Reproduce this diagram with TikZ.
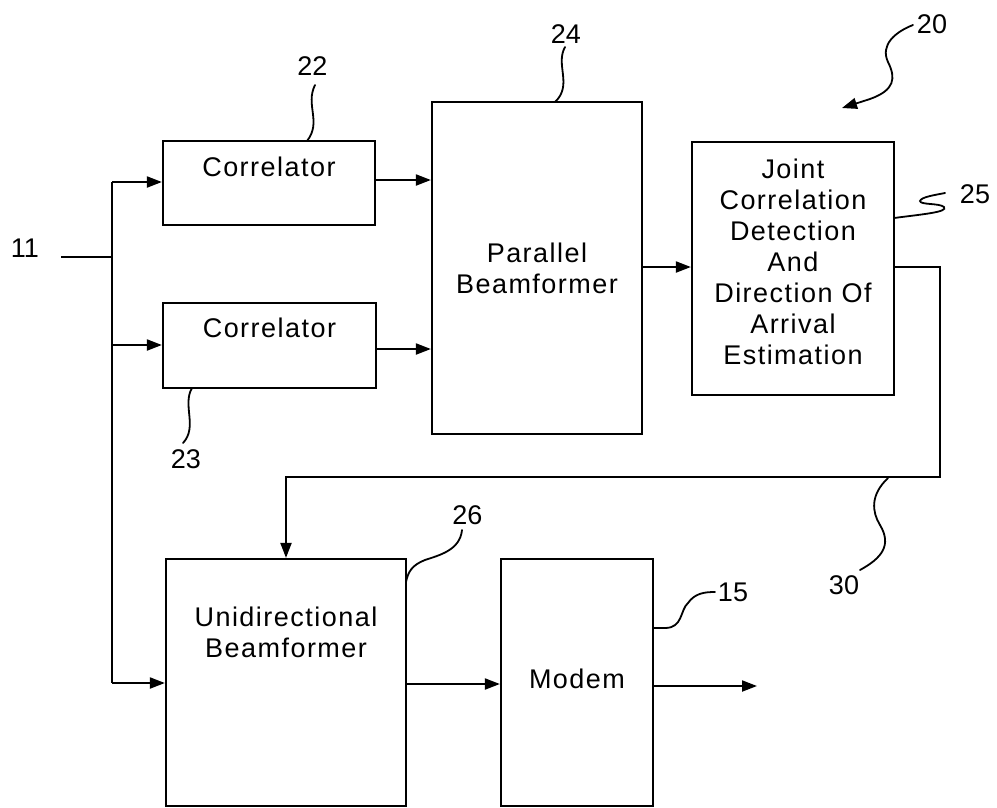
\documentclass[tikz,border=0pt]{standalone}
\usepackage{fontspec}
\setmainfont{Liberation Sans}
\newfontfamily\wordfont{Liberation Sans}[LetterSpace=5.5]
\usetikzlibrary{arrows.meta}
\begin{document}
\begin{tikzpicture}[x=1pt,y=-1pt,
  blk/.style={draw, line width=2.2pt, inner sep=0pt},
  txt/.style={font=\wordfont\fontsize{27}{31}\selectfont, align=center, inner sep=0pt},
  num/.style={font=\fontsize{27}{31}\selectfont, inner sep=0pt},
  conn/.style={line width=2pt},
  arr/.style={conn, -{Triangle[length=15pt,width=11pt]}},
  lead/.style={line width=1.8pt, line cap=round}]
\useasboundingbox (0,0) rectangle (997,807);

% blocks
\node[blk, minimum width=212pt, minimum height=84pt,
  label={[txt,yshift=16pt]center:Correlator}] (c1) at (269,183) {};
\node[blk, minimum width=213pt, minimum height=85pt,
  label={[txt,yshift=17.5pt]center:Correlator}] (c2) at (269.5,345.5) {};
\node[blk, minimum width=210pt, minimum height=332pt, txt] (pb) at (537,268) {Parallel\\Beamformer};
\node[blk, minimum width=202pt, minimum height=253pt,
  label={[txt,yshift=7pt]center:Joint\\Correlation\\Detection\\And\\Direction Of\\Arrival\\Estimation}] (jd) at (793,268.5) {};
\node[blk, minimum width=240pt, minimum height=247pt,
  label={[txt,yshift=50pt]center:Unidirectional\\Beamformer}] (ub) at (286,682.5) {};
\node[blk, minimum width=152pt, minimum height=247pt,
  label={[txt,yshift=3.5pt]center:Modem}] (md) at (577,682.5) {};

% reference numerals
\node[num] (n11) at (25,248.5) {11};
\node[num] (n22) at (312.5,66.5) {22};
\node[num] (n23) at (186,459.5) {23};
\node[num] (n24) at (566,34) {24};
\node[num] (n20) at (932,24) {20};
\node[num] (n25) at (975,194) {25};
\node[num] (n26) at (467.5,515) {26};
\node[num] (n15) at (733,592) {15};
\node[num] (n30) at (844,585.5) {30};

% input bus
\coordinate (in) at (61,257);
\coordinate (jin) at (112,257);
\coordinate (jtop) at (112,182);
\coordinate (jmid) at (112,345);
\coordinate (jbot) at (112,683);
\draw[conn] (in) -- (jin);
\draw[conn] (jtop) -- (jbot);
\draw[arr] (jtop) -- (jtop -| c1.west);
\draw[arr] (jmid) -- (jmid -| c2.west);
\draw[arr] (jbot) -- (jbot -| ub.west);

% correlators to parallel beamformer
\draw[arr] ([yshift=3pt]c1.east) -- ([yshift=3pt]c1.east -| pb.west);
\draw[arr] ([yshift=-3.5pt]c2.east) -- ([yshift=-3.5pt]c2.east -| pb.west);
\draw[arr] ([yshift=1pt]pb.east) -- ([yshift=1pt]pb.east -| jd.west);

% feedback 30
\coordinate (fb) at (940,477);
\draw[arr] ([yshift=1.5pt]jd.east) -| (fb) -| (ub.north);

% unidirectional -> modem -> out
\coordinate (out) at (757,686);
\draw[arr] ([yshift=-1.5pt]ub.east) -- ([yshift=-1.5pt]ub.east -| md.west);
\draw[arr] (out -| md.east) -- (out);

% leader lines
\draw[lead] (315,85) .. controls (305,105) and (322,122) .. (307,141);
\draw[lead] (192,388) .. controls (182,405) and (198,427) .. (183,443);
\draw[lead] (565,47) .. controls (555,65) and (573,85) .. (555,102);
\draw[lead] (894,218) .. controls (925,214) and (948,212) .. (944,207)
  .. controls (940,203) and (920,205) .. (920,201) .. controls (921,197) and (935,195) .. (945,193);
\draw[lead] (462,530) .. controls (460,550) and (440,555) .. (425,560) .. controls (412,565) and (408,572) .. (406,582);
\draw[lead] (653,628) -- (665,628) .. controls (683,628) and (680,610) .. (688,603) .. controls (695,593) and (705,592) .. (715,592);
\draw[lead] (888,478) .. controls (870,495) and (872,512) .. (880,525) .. controls (892,545) and (882,558) .. (860,570);
\draw[lead, -{Triangle[length=15pt,width=11pt]}] (913,25) .. controls (895,32) and (880,45) .. (888,62) .. controls (896,78) and (895,90) .. (870,99) -- (842,108);
\end{tikzpicture}
\end{document}
